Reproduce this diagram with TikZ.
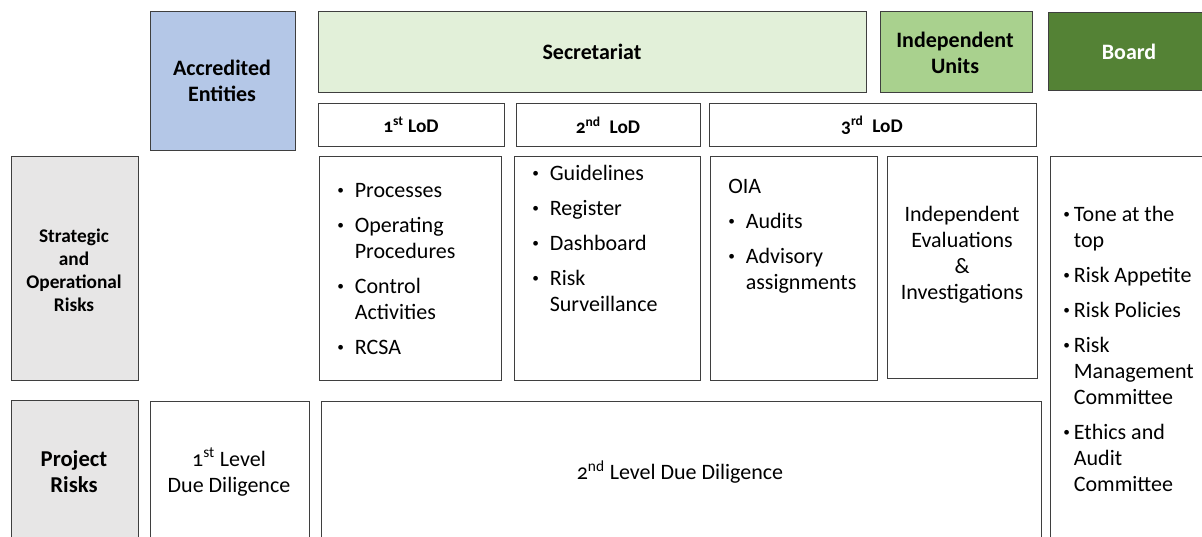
\documentclass[tikz,border=0pt]{standalone}
\usepackage{fontspec}
\setmainfont{Carlito}[Numbers=OldStyle]
\usepackage{array}
\definecolor{edgecol}{HTML}{3F3F3F}
\definecolor{blueF}{HTML}{B4C7E7}
\definecolor{paleG}{HTML}{E2F0D9}
\definecolor{midG}{HTML}{A9D18E}
\definecolor{darkG}{HTML}{548235}
\definecolor{grayF}{HTML}{E7E6E6}
\newcommand\blist[2]{{\renewcommand\arraystretch{1}\begin{tabular}[t]{@{}l@{\hspace{#1}}l@{}}#2\end{tabular}}}
\newcommand\ig{\\[6.75pt]}
\newcommand\bul{\raisebox{2pt}{\fontsize{10}{10}\selectfont\textbullet}}
\tikzset{
  box/.style={draw=edgecol, line width=1.1pt, fill=white, anchor=north west, inner sep=0pt},
  sz/.style 2 args={minimum width=#1*0.75pt, minimum height=#2*0.75pt},
  hdr/.style={font=\fontsize{16.5}{19.5}\selectfont\bfseries, align=center, inner sep=0pt},
  lodt/.style={font=\fontsize{14.5}{16}\selectfont\bfseries, align=center, inner sep=0pt},
  side/.style={font=\fontsize{14.5}{17.25}\selectfont\bfseries, align=center, inner sep=0pt},
  body/.style={font=\fontsize{16.5}{19.5}\selectfont, inner sep=0pt},
  bodyc/.style={body, align=center},
  lst/.style={body, anchor=base west},
}
\begin{document}
\begin{tikzpicture}[x=0.75pt,y=-0.75pt]
\path[use as bounding box] (0,0) rectangle (1202,536);
\clip (0,0) rectangle (1202,536);
% top row
\node[box, fill=blueF, sz={145}{139}] (acc) at (150,11) {};
\node[box, fill=paleG, sz={548}{81}] (sec) at (318,11) {};
\node[box, fill=midG, sz={152}{81}] (ind) at (880,11) {};
\node[box, fill=darkG, sz={170}{78}] (brd) at (1048,12) {};
\node[hdr] (tacc) at (222,80.5) {Accredited\\Entities};
\node[hdr] (tsec) at (592,52) {Secretariat};
\node[hdr] (tind) at (955,53) {Independent\\Units};
\node[hdr, text=white] (tbrd) at (1129,52) {Board};
% LoD row
\node[box, sz={186}{43}] (lod1) at (318,103) {};
\node[box, sz={184}{43}] (lod2) at (516,103) {};
\node[box, sz={327}{43}] (lod3) at (709,103) {};
\node[lodt] (tl1) at (411,125) {1\textsuperscript{st} LoD};
\node[lodt] (tl2) at (608,125) {2\textsuperscript{nd}\ \ LoD};
\node[lodt] (tl3) at (872,125) {3\textsuperscript{rd}\ \ LoD};
% strategic row
\node[box, fill=grayF, sz={127}{224}] (sor) at (11,156) {};
\node[box, sz={182}{224}] (c1) at (319,156) {};
\node[box, sz={186}{224}] (c2) at (514,156) {};
\node[box, sz={167}{224}] (c3) at (710,156) {};
\node[box, sz={150}{222}] (c4) at (887,156) {};
\node[box, sz={170}{400}] (c5) at (1050,156) {};
\node[side] (tsor) at (74,270.5) {Strategic\\and\\Operational\\Risks};
\node[lst] (l1) at (337,197) {\blist{8.2pt}{\bul & Processes\ig
\bul & Operating\\ & Procedures\ig
\bul & Control\\ & Activities\ig
\bul & RCSA}};
\node[lst] (l2) at (532,180) {\blist{8.2pt}{\bul & Guidelines\ig
\bul & Register\ig
\bul & Dashboard\ig
\bul & Risk\\ & Surveillance}};
\node[lst] (l3) at (728,193) {\blist{8.2pt}{\multicolumn{2}{@{}l@{}}{OIA}\ig
\bul & Audits\ig
\bul & Advisory\\ & assignments}};
\node[bodyc] (l4) at (962,254.5) {Independent\\Evaluations\\\&\\Investigations};
\node[lst] (l5) at (1063,221) {\blist{3pt}{\bul & Tone at the\\ & top\ig
\bul & Risk Appetite\ig
\bul & Risk Policies\ig
\bul & Risk\\ & Management\\ & Committee\ig
\bul & Ethics and\\ & Audit\\ & Committee}};
% project row
\node[box, fill=grayF, sz={127}{150}] (pr) at (11,400) {};
\node[box, sz={159}{150}] (dd1) at (150,401) {};
\node[box, sz={720}{150}] (dd2) at (321,401) {};
\node[side, font=\fontsize{17}{19.5}\selectfont\bfseries] (tpr) at (74,472) {Project\\Risks};
\node[bodyc] (tdd1) at (229,472) {1\textsuperscript{st} Level\\Due Diligence};
\node[bodyc] (tdd2) at (680,472) {2\textsuperscript{nd} Level Due Diligence};
\end{tikzpicture}
\end{document}
